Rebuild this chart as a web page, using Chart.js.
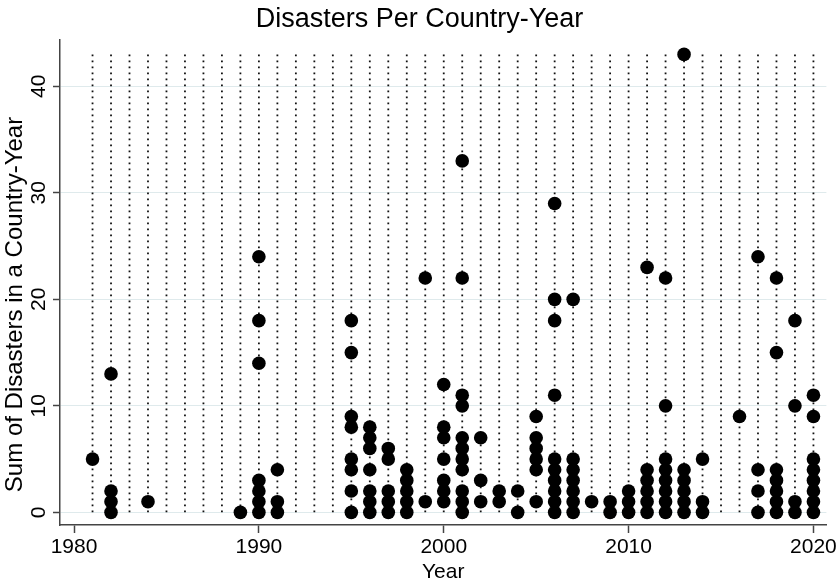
<!DOCTYPE html>
<html>
<head>
<meta charset="utf-8">
<title>Disasters Per Country-Year</title>
<script src="https://cdn.jsdelivr.net/npm/chart.js@4/dist/chart.umd.min.js"></script>
<style>
  html, body { margin: 0; padding: 0; background: #fff; }
  #chart { display: block; }
</style>
</head>
<body>
<canvas id="chart" width="839" height="585"></canvas>
<script>
// years that have at least one country-year, and the disaster counts seen in each
const years = [1981, 1982, 1984, 1989, 1990, 1991, 1995, 1996, 1997, 1998, 1999, 2000, 2001, 2002, 2003, 2004,
               2005, 2006, 2007, 2008, 2009, 2010, 2011, 2012, 2013, 2014, 2016, 2017, 2018, 2019, 2020];
const counts = [
    [5], [0, 1, 2, 13], [1], [0], [0, 1, 2, 3, 14, 18, 24], [0, 1, 4],
    [0, 2, 4, 5, 8, 9, 15, 18], [0, 1, 2, 4, 6, 7, 8], [0, 1, 2, 5, 6], [0, 1, 2, 3, 4], [1, 22],
    [1, 2, 3, 5, 7, 8, 12], [0, 1, 2, 4, 5, 6, 7, 10, 11, 22, 33], [1, 3, 7], [1, 2], [0, 2],
    [1, 4, 5, 6, 7, 9], [0, 1, 2, 3, 4, 5, 11, 18, 20, 29], [0, 1, 2, 3, 4, 5, 20], [1], [0, 1], [0, 1, 2],
    [0, 1, 2, 3, 4, 23], [0, 1, 2, 3, 4, 5, 10, 22], [0, 1, 2, 3, 4, 43], [0, 1, 5],
    [9], [0, 2, 4, 24], [0, 1, 2, 3, 4, 15, 22], [0, 1, 10, 18], [0, 1, 2, 3, 4, 5, 9, 11]
];
// every year gets a dotted guide line
const lineYears = [1981, 1982, 1983, 1984, 1985, 1986, 1987, 1988, 1989, 1990, 1991, 1992, 1993, 1994, 1995, 1996,
                   1997, 1998, 1999, 2000, 2001, 2002, 2003, 2004, 2005, 2006, 2007, 2008, 2009, 2010, 2011, 2012,
                   2013, 2014, 2015, 2016, 2017, 2018, 2019, 2020];
const xTicks = [1980, 1990, 2000, 2010, 2020];
const yTicks = [0, 10, 20, 30, 40];
const yTitle = 'Sum of Disasters in a Country-Year';

const FONT = "'Liberation Sans', Arial, Helvetica, sans-serif";

let points = [];
years.forEach((yr, i) => counts[i].forEach(c => points.push({ x: yr, y: c })));

// guide lines run from 0 up to the largest count
const topVal = Math.max(...points.map(p => p.y));
let guides = [];
lineYears.forEach(yr => { guides.push({ x: yr, y: 0 }, { x: yr, y: topVal }, { x: yr, y: null }); });

// y title sits a bit below the middle of the axis, so draw it by hand
const yTitlePlugin = {
    id: 'yTitle',
    afterDraw(chart) {
        const ctx = chart.ctx, area = chart.chartArea;
        ctx.save();
        ctx.translate(15, (area.top + area.bottom) / 2 + 22);
        ctx.rotate(-Math.PI / 2);
        ctx.font = `24px ${FONT}`;
        ctx.fillStyle = '#000';
        ctx.textAlign = 'center';
        ctx.textBaseline = 'middle';
        ctx.fillText(yTitle, 0, 0);
        ctx.restore();
    }
};

new Chart(document.getElementById('chart').getContext('2d'), {
    type: 'scatter',
    data: {
        datasets: [
            { label: 'count', data: points, order: 1, pointRadius: 6.8, pointHoverRadius: 6.8,
              pointBackgroundColor: '#000', pointBorderWidth: 0, showLine: false },
            { label: 'guide', data: guides, order: 2, type: 'line', showLine: true, spanGaps: false,
              borderColor: '#111', borderWidth: 1.8, borderDash: [1.8, 4.2], pointRadius: 0, fill: false }
        ]
    },
    options: {
        responsive: false, animation: false,
        layout: { padding: { left: 12, right: 12 } },
        plugins: {
            legend: { display: false }, tooltip: { enabled: false },
            title: { display: true, text: 'Disasters Per Country-Year', color: '#000',
                     font: { family: FONT, size: 27, weight: 'normal', lineHeight: 1.2 },
                     padding: { top: 3, bottom: 4.6 } }
        },
        scales: {
            x: {
                type: 'linear', min: 1979.24, max: 2020.7,
                afterBuildTicks: s => { s.ticks = xTicks.map(v => ({ value: v })); },
                afterFit: s => { s.height = 60; },
                grid: { drawOnChartArea: false, drawTicks: true, tickLength: 8, tickColor: '#444', tickWidth: 1.5 },
                border: { color: '#444', width: 1.5 },
                ticks: { color: '#000', padding: 2, maxRotation: 0, font: { family: FONT, size: 21 },
                         callback: v => String(v) },
                title: { display: true, text: 'Year', color: '#000', padding: 0,
                         font: { family: FONT, size: 21, lineHeight: 1.2 } }
            },
            y: {
                type: 'linear', min: -1.19, max: 44.35,
                afterBuildTicks: s => { s.ticks = yTicks.map(v => ({ value: v })); },
                afterFit: s => { s.width = 48; },
                grid: { color: '#dfeaec', lineWidth: 1, drawTicks: true, tickLength: 7, tickColor: '#444', tickWidth: 1.5 },
                border: { color: '#444', width: 1.5 },
                ticks: { color: '#000', padding: 2, minRotation: 90, maxRotation: 90, crossAlign: 'center',
                         font: { family: FONT, size: 21 }, callback: v => String(v) },
                title: { display: false }
            }
        }
    },
    plugins: [yTitlePlugin]
});
</script>
</body>
</html>
